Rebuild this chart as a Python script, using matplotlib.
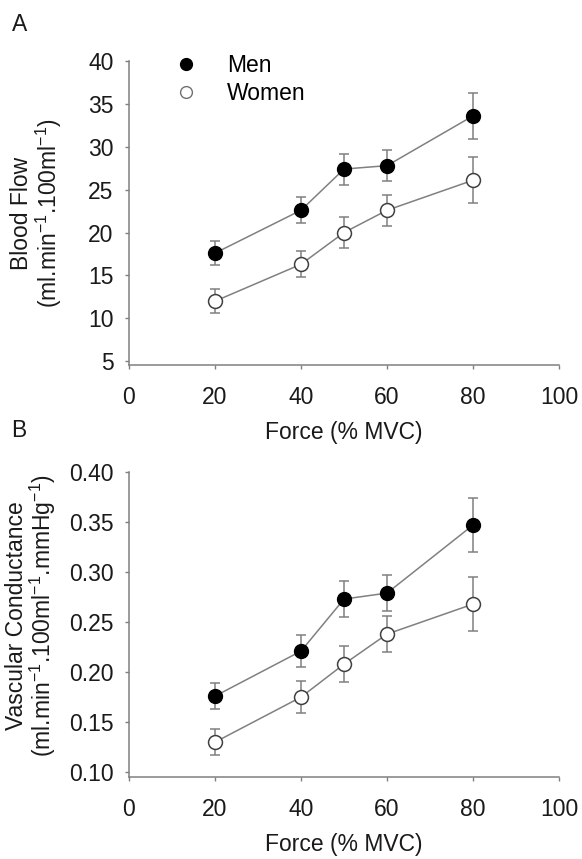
import numpy as np
import matplotlib
matplotlib.use("Agg")
from matplotlib import pyplot as plt
from matplotlib.ticker import FormatStrFormatter

plt.rcParams['font.family'] = ['Liberation Sans', 'DejaVu Sans']
plt.rcParams['mathtext.fontset'] = 'custom'
plt.rcParams['mathtext.rm'] = 'Liberation Sans'
plt.rcParams['mathtext.default'] = 'regular'

force = [20, 40, 50, 60, 80]

flow_men = [17.6, 22.6, 27.4, 27.8, 33.6]
flow_men_err = [1.4, 1.5, 1.8, 1.8, 2.7]
flow_women = [12.0, 16.3, 20.0, 22.6, 26.1]
flow_women_err = [1.4, 1.5, 1.8, 1.8, 2.7]

vc_men = [0.176, 0.221, 0.273, 0.279, 0.347]
vc_men_err = [0.013, 0.016, 0.018, 0.018, 0.027]
vc_women = [0.130, 0.175, 0.208, 0.238, 0.268]
vc_women_err = [0.013, 0.016, 0.018, 0.018, 0.027]

gray = '#808080'
txt = '#1a1a1a'
fs = 16.5

fig = plt.figure(figsize=(5.82, 8.59), dpi=100)
axA = fig.add_axes([0.2216, 0.575, 0.739, 0.354])
axB = fig.add_axes([0.2216, 0.0955, 0.739, 0.355])


def draw(ax, men, men_err, women, women_err):
    ax.errorbar(force, men, yerr=men_err, color=gray, lw=1.1, capsize=3.5,
                elinewidth=1.1, capthick=1.1, marker='o', ms=10, mfc='black',
                mec='black', zorder=3)
    ax.errorbar(force, women, yerr=women_err, color=gray, lw=1.1, capsize=3.5,
                elinewidth=1.1, capthick=1.1, marker='o', ms=10, mfc='white',
                mec='#404040', mew=1.1, zorder=3)
    for s in ['top', 'right']:
        ax.spines[s].set_visible(False)
    for s in ['left', 'bottom']:
        ax.spines[s].set_color(gray)
        ax.spines[s].set_linewidth(1.1)
    ax.tick_params(colors=gray, labelcolor=txt, labelsize=fs, length=3,
                   width=1.0, direction='out')
    ax.tick_params(axis='x', pad=12)
    ax.tick_params(axis='y', pad=8)
    ax.set_xlim(0, 100)
    ax.set_xticks([0, 20, 40, 60, 80, 100])
    ax.set_xlabel('Force (% MVC)', fontsize=fs, labelpad=9, color=txt)


draw(axA, flow_men, flow_men_err, flow_women, flow_women_err)
axA.set_ylim(4.55, 40)
axA.set_yticks(np.arange(5, 41, 5))
axA.set_ylabel('Blood Flow\n(ml.min$^{-1}$.100ml$^{-1}$)', fontsize=fs,
               linespacing=1.0, color=txt)
axA.yaxis.set_label_coords(-0.152, 0.5)
leg_handles = [plt.Line2D([], [], ls='none', marker='o', ms=8.5, mfc='black', mec='black'),
               plt.Line2D([], [], ls='none', marker='o', ms=8.5, mfc='white', mec='#707070',
                          mew=1.0)]
axA.legend(leg_handles, ['Men', 'Women'], loc='upper left', bbox_to_anchor=(0.116, 1.023),
           frameon=False, fontsize=fs, handlelength=0.6, handletextpad=1.5,
           labelspacing=0.22, borderpad=0, borderaxespad=0)

draw(axB, vc_men, vc_men_err, vc_women, vc_women_err)
axB.set_ylim(0.0952, 0.40)
axB.set_yticks(np.arange(0.10, 0.401, 0.05))
axB.yaxis.set_major_formatter(FormatStrFormatter('%.2f'))
axB.set_ylabel('Vascular Conductance\n(ml.min$^{-1}$.100ml$^{-1}$.mmHg$^{-1}$)',
               fontsize=fs, linespacing=1.0, color=txt)
axB.yaxis.set_label_coords(-0.165, 0.53)

fig.text(0.021, 0.971, 'A', fontsize=fs, va='center', color=txt)
fig.text(0.019, 0.4994, 'B', fontsize=fs, va='center', color=txt)

fig.savefig('out.png', dpi=100, facecolor='white')
